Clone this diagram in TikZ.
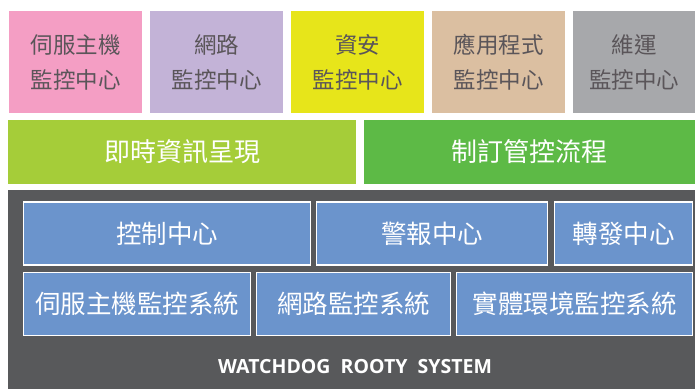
\documentclass[tikz,border=0pt]{standalone}
\usepackage{fontspec}
\newfontfamily\cjk{Noto Sans CJK TC}
\setsansfont{Open Sans}
\usepackage{tikz}
\usetikzlibrary{positioning}
\definecolor{pinkbox}{HTML}{F49EC4}
\definecolor{lavbox}{HTML}{C3B3D7}
\definecolor{yelbox}{HTML}{E7E51A}
\definecolor{tanbox}{HTML}{DBBFA1}
\definecolor{graybox}{HTML}{A7A8AB}
\definecolor{limebar}{HTML}{A5CD39}
\definecolor{greenbar}{HTML}{5DBA46}
\definecolor{basegray}{HTML}{58595B}
\definecolor{bluebox}{HTML}{6B94CC}
\definecolor{toptext}{HTML}{5A5559}

\begin{document}
\begin{tikzpicture}[x=1pt,y=-1pt,
  every node/.style={inner sep=0pt, outer sep=0pt},
  center/.style={rectangle, minimum width=133pt, minimum height=102pt, align=center,
    text=toptext, font=\cjk\fontsize{22.5}{35}\selectfont},
  bar/.style={rectangle, minimum height=64pt, text=white, font=\cjk\fontsize{26}{28}\selectfont},
  module/.style={rectangle, draw=white, line width=1.5pt, fill=bluebox, minimum height=63pt,
    text=white, font=\cjk\fontsize{25.5}{28}\selectfont}]
        \useasboundingbox (0,0) rectangle (695,389);
        % Node positions
        \node[center, fill=pinkbox] (srv) at (75.5,62) {伺服主機\\監控中心};
        \node[center, fill=lavbox] (net) at (216.5,62) {網路\\監控中心};
        \node[center, fill=yelbox] (sec) at (357.5,62) {資安\\監控中心};
        \node[center, fill=tanbox] (app) at (498.5,62) {應用程式\\監控中心};
        \node[center, fill=graybox, minimum width=122pt] (ops) at (634,62) {維運\\監控中心};

        \node[bar, fill=limebar, minimum width=348pt] (info) at (182,152) {即時資訊呈現};
        \node[bar, fill=greenbar, minimum width=331pt] (flow) at (529.5,152) {制訂管控流程};

        \node[rectangle, fill=basegray, minimum width=687pt, minimum height=199pt] (base) at (351.5,289.5) {};

        \node[module, minimum width=287pt] (ctrl) at (167,233.5) {控制中心};
        \node[module, minimum width=231pt] (alarm) at (432,233.5) {警報中心};
        \node[module, minimum width=138pt] (fwd) at (623.5,233.5) {轉發中心};

        \node[module, minimum width=227pt] (srvsys) at (137,304) {伺服主機監控系統};
        \node[module, minimum width=194pt] (netsys) at (353.5,304) {網路監控系統};
        \node[module, minimum width=236pt] (envsys) at (574.5,304) {實體環境監控系統};

        \node[text=white, font=\sffamily\bfseries\fontsize{19.5}{22}\selectfont] (name) at (355,367) {WATCHDOG\ \ ROOTY\ \ SYSTEM};

      \end{tikzpicture}
\end{document}
